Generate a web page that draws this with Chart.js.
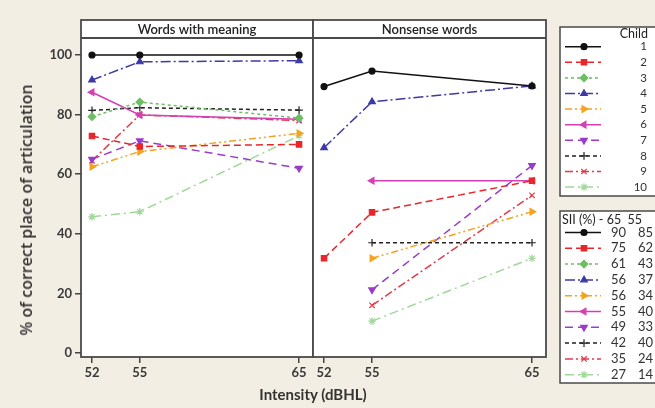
<!DOCTYPE html>
<html>
<head>
<meta charset="utf-8">
<script src="https://cdn.jsdelivr.net/npm/chart.js@4.4.1/dist/chart.umd.min.js"></script>
<style>
body { margin: 0; background: #f3eee3; width: 655px; height: 408px; overflow: hidden; position: relative; font-family: Lato, sans-serif; }
canvas { position: absolute; left: 0; top: 0; }
.ttl { position: absolute; white-space: nowrap; color: #333; }
#ytitle { left: 26px; top: 210px; font-family: 'Open Sans'; font-weight: 600; font-size: 16px; transform: translate(-50%, -50%) rotate(-90deg); }
#xtitle { left: 313px; top: 394px; font-weight: bold; font-size: 15px; transform: translate(-50%, -50%); }
</style>
</head>
<body>
<canvas id="left" width="655" height="408"></canvas>
<canvas id="right" width="655" height="408"></canvas>
<div class="ttl" id="ytitle">% of correct place of articulation</div>
<div class="ttl" id="xtitle">Intensity (dBHL)</div>
<script>
// intensities (dBHL) and axis ticks
const xValues = [52, 55, 65]
const yTicks = [0, 20, 40, 60, 80, 100]
const children = ['1', '2', '3', '4', '5', '6', '7', '8', '9', '10']
const sii65 = [90, 75, 61, 56, 56, 55, 49, 42, 35, 27]
const sii55 = [85, 62, 43, 37, 34, 40, 33, 40, 24, 14]

// words with meaning, per child (52, 55, 65 dBHL)
const words1 = [100, 100, 100]
const words2 = [72.8, 69.3, 70.0]
const words3 = [79.3, 84.2, 78.8]
const words4 = [91.6, 97.7, 98.1]
const words5 = [62.5, 67.6, 73.7]
const words6 = [87.5, 79.9, 78.4]
const words7 = [65.0, 71.2, 62.0]
const words8 = [81.4, 82.3, 81.5]
const words9 = [64.5, 79.9, 78.0]
const words10 = [45.7, 47.4, 72.9]

// nonsense words, per child
const nonsense1 = [89.4, 94.6, 89.6]
const nonsense2 = [31.8, 47.2, 57.8]
const nonsense3 = [null, null, null]
const nonsense4 = [68.9, 84.3, 89.6]
const nonsense5 = [null, 31.8, 47.4]
const nonsense6 = [null, 57.8, 57.8]
const nonsense7 = [null, 21.2, 62.9]
const nonsense8 = [null, 37.0, 37.0]
const nonsense9 = [null, 16.0, 52.9]
const nonsense10 = [null, 10.7, 31.8]

const wordsSeries = [words1, words2, words3, words4, words5, words6, words7, words8, words9, words10]
const nonsenseSeries = [nonsense1, nonsense2, nonsense3, nonsense4, nonsense5, nonsense6, nonsense7, nonsense8, nonsense9, nonsense10]

// styles
const colors = ['#111111', '#e8262a', '#6cbf62', '#3d3aa6', '#f5a21e', '#d43fb3', '#9a3cc9', '#222222', '#e23a48', '#a0d89a']
const dashes = [[], [7, 4], [3, 3], [10, 3, 2, 3], [7, 3, 2, 3, 2, 3], [], [8, 5], [4, 3], [8, 3, 2, 3], [9, 4, 2, 4]]
const shapes = ['circle', 'rect', 'rectRot', 'triangle', 'triangle', 'triangle', 'triangle', 'cross', 'crossRot', 'star']
const rotations = [0, 0, 0, 0, 90, 270, 180, 0, 0, 0]

const fontTick = { family: 'Lato', size: 13, weight: 'bold' }

function makeDatasets(series) {
    return series.map((vals, i) => ({
        label: children[i],
        data: vals.map((v, j) => v === null ? null : { x: xValues[j], y: v }).filter(p => p !== null),
        borderColor: colors[i],
        backgroundColor: colors[i],
        borderDash: dashes[i],
        borderWidth: 1.5,
        pointStyle: shapes[i],
        pointRotation: rotations[i],
        pointRadius: shapes[i] === 'circle' ? 3 : 3.8,
        pointBorderWidth: 1.2,
        tension: 0
    }))
}

const panelPlugin = {
    id: 'panel',
    beforeDraw(chart) {
        const { ctx, chartArea: a } = chart
        ctx.save()
        ctx.fillStyle = '#ffffff'
        ctx.fillRect(a.left, 20, a.right - a.left, a.bottom - 20)
        ctx.restore()
    },
    afterDraw(chart, args, opts) {
        const { ctx, chartArea: a } = chart
        ctx.save()
        ctx.strokeStyle = '#4a4a4a'
        ctx.lineWidth = 1.8
        ctx.strokeRect(a.left, 20, a.right - a.left, a.bottom - 20)
        ctx.beginPath()
        ctx.moveTo(a.left, 38)
        ctx.lineTo(a.right, 38)
        ctx.stroke()
        ctx.fillStyle = '#222'
        ctx.font = '600 13px Lato'
        ctx.textAlign = 'center'
        ctx.textBaseline = 'middle'
        ctx.fillText(opts.text, (a.left + a.right) / 2, 29.5)
        ctx.restore()
    }
}

const legendPlugin = {
    id: 'sideLegend',
    afterDraw(chart, args, opts) {
        if (!opts.show) return
        const ctx = chart.ctx
        const sets = chart.data.datasets
        ctx.save()
        ctx.fillStyle = '#ffffff'
        ctx.strokeStyle = '#4a4a4a'
        ctx.lineWidth = 1.5
        ctx.fillRect(560, 27, 100, 169)
        ctx.strokeRect(560, 27, 100, 169)
        ctx.fillRect(560, 211, 100, 172)
        ctx.strokeRect(560, 211, 100, 172)

        ctx.font = '12.5px Lato'
        ctx.fillStyle = '#222'
        ctx.textBaseline = 'middle'
        ctx.textAlign = 'right'
        ctx.fillText('Child', 648, 34)
        ctx.textAlign = 'left'
        ctx.fillText('SII (%) - 65  55', 562, 220)

        const sample = (ds, y) => {
            ctx.strokeStyle = ds.borderColor
            ctx.fillStyle = ds.backgroundColor
            ctx.lineWidth = 1.5
            ctx.setLineDash(ds.borderDash)
            ctx.beginPath()
            ctx.moveTo(565, y)
            ctx.lineTo(601, y)
            ctx.stroke()
            ctx.setLineDash([])
            ctx.lineWidth = 1.2
            Chart.helpers.drawPoint(ctx, {
                pointStyle: ds.pointStyle, rotation: ds.pointRotation,
                radius: ds.pointRadius, borderWidth: 1.2
            }, 584, y)
        }

        sets.forEach((ds, i) => {
            const y1 = 46.7 + i * 15.6
            sample(ds, y1)
            const y2 = 232.5 + i * 15.8
            sample(ds, y2)
            ctx.fillStyle = '#333'
            ctx.font = '11.5px Lato'
            ctx.textAlign = 'right'
            ctx.fillText(children[i], 647, y1)
            ctx.font = '13px Lato'
            ctx.fillText(String(sii65[i]), 626, y2)
            ctx.textAlign = 'left'
            ctx.fillText(String(sii55[i]), 638, y2)
        })
        ctx.restore()
    }
}

function makeChart(id, series, title, pad, showY, showLegend) {
    return new Chart(document.getElementById(id), {
        type: 'line',
        data: { datasets: makeDatasets(series) },
        plugins: [panelPlugin, legendPlugin],
        options: {
            responsive: false,
            animation: false,
            layout: { padding: pad },
            plugins: {
                legend: { display: false },
                tooltip: { enabled: false },
                panel: { text: title },
                sideLegend: { show: showLegend }
            },
            scales: {
                x: {
                    type: 'linear',
                    min: 51.31,
                    max: 65.875,
                    afterBuildTicks: s => { s.ticks = xValues.map(v => ({ value: v })) },
                    afterFit: s => { s.height = 51 },
                    grid: { drawOnChartArea: false, drawTicks: true, tickLength: 6, color: '#444', lineWidth: 1.5 },
                    border: { display: false },
                    ticks: { font: fontTick, color: '#3a3a3a', padding: 2, maxRotation: 0 }
                },
                y: {
                    display: showY,
                    min: -1.34,
                    max: 105.7,
                    afterBuildTicks: s => { s.ticks = yTicks.map(v => ({ value: v })) },
                    afterFit: s => { s.width = showY ? 81 : 0 },
                    grid: { drawOnChartArea: false, drawTicks: true, tickLength: 6, color: '#444', lineWidth: 1.5 },
                    border: { display: false },
                    ticks: { font: fontTick, color: '#3a3a3a', padding: 3 }
                }
            }
        }
    })
}

makeChart('left', wordsSeries, 'Words with meaning', { left: 0, right: 342, top: 38, bottom: 0 }, true, false)
makeChart('right', nonsenseSeries, 'Nonsense words', { left: 313, right: 109, top: 38, bottom: 0 }, false, true)
</script>
</body>
</html>
